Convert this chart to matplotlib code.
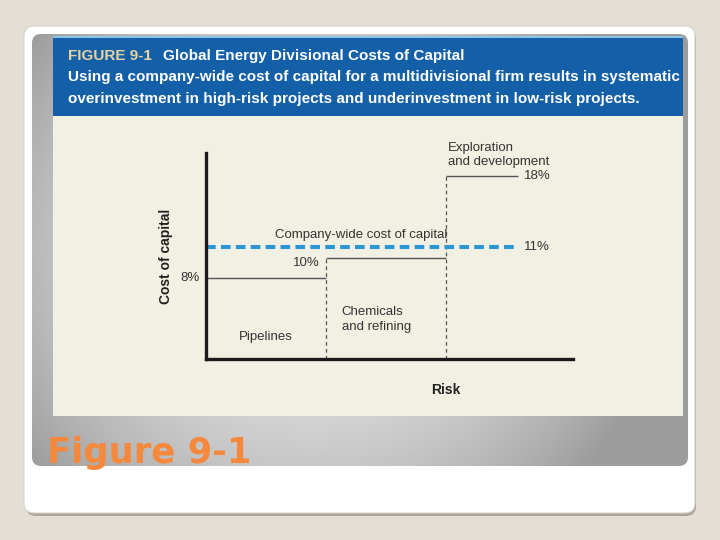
import numpy as np
import matplotlib.pyplot as plt
from matplotlib.patches import FancyBboxPatch, Rectangle
from matplotlib import font_manager

# data
divisions = ["Pipelines", "Chemicals\nand refining", "Exploration\nand development"]
risk_edges = [0, 1, 2, 2.6]
division_cost = [8, 10, 18]
cost_labels = ["8%", "10%", "18%"]
company_wide_cost = 11
company_label = "11%"

names = {f.name for f in font_manager.fontManager.ttflist}
narrow = "Liberation Sans Narrow" if "Liberation Sans Narrow" in names else "Liberation Sans"

fig = plt.figure(figsize=(7.2, 5.4), dpi=100)
fig.patch.set_facecolor("#e4ded4")

# background in pixel coordinates
bg = fig.add_axes([0, 0, 1, 1])
bg.set_xlim(0, 720)
bg.set_ylim(540, 0)
bg.axis("off")

# card with shadow
bg.add_patch(FancyBboxPatch((26, 29), 670, 487, boxstyle="round,pad=0,rounding_size=10",
                            fc="#a9a49c", ec="none"))
bg.add_patch(FancyBboxPatch((24, 26), 671, 487, boxstyle="round,pad=0,rounding_size=10",
                            fc="white", ec="#d8d4cc", lw=0.8))

# gray gradient panel
panel = FancyBboxPatch((32, 34), 656, 432, boxstyle="round,pad=0,rounding_size=9",
                       fc="none", ec="none")
bg.add_patch(panel)
xx = np.linspace(-1, 1, 300)
yy = np.linspace(-1, 1, 200)
X, Y = np.meshgrid(xx, yy)
r = np.sqrt(((X + 0.15) / 1.1) ** 2 + (Y / 1.6) ** 2)
grad = 0.89 - 0.28 * np.clip(r, 0, 1) ** 2
im = bg.imshow(grad, cmap="gray", vmin=0, vmax=1, extent=(32, 688, 466, 34),
               aspect="auto", zorder=1)
im.set_clip_path(panel)

# blue header and cream plot area
bg.add_patch(Rectangle((53, 36), 630, 80, fc="#1460a8", ec="none", zorder=2))
bg.add_patch(Rectangle((53, 36), 630, 2, fc="#8fc3e6", ec="none", zorder=2))
bg.add_patch(Rectangle((53, 116), 630, 300, fc="#f2f0e3", ec="none", zorder=2))

hdr = dict(family=narrow, weight="bold", fontsize=11, va="center", zorder=3)
bg.text(68, 56, "FIGURE 9-1", color="#e6d3a0", **hdr)
bg.text(163, 56, "Global Energy Divisional Costs of Capital", color="white", **hdr)
bg.text(68, 77, "Using a company-wide cost of capital for a multidivisional firm results in systematic",
        color="white", **hdr)
bg.text(68, 99, "overinvestment in high-risk projects and underinvestment in low-risk projects.",
        color="white", **hdr)

bg.text(47, 453, "Figure 9-1", color="#f5883a", fontsize=25.5, weight="bold",
        family="DejaVu Sans", va="center", zorder=3)

# chart
ax = fig.add_axes([206 / 720, (540 - 359) / 540, 367 / 720, 206 / 540])
ax.set_xlim(0, 3.06)
ax.set_ylim(0, 20.3)
ax.patch.set_alpha(0)
for s in ["top", "right"]:
    ax.spines[s].set_visible(False)
for s in ["left", "bottom"]:
    ax.spines[s].set_linewidth(2.4)
    ax.spines[s].set_color("#1a1a1a")
ax.set_xticks([])
ax.set_yticks([])

line_col = "#555555"
fs = 9.5
for i in range(len(divisions)):
    ax.hlines(division_cost[i], risk_edges[i], risk_edges[i + 1], color=line_col, lw=1.0)
for i in [1, 2]:
    ax.vlines(risk_edges[i], 0, division_cost[i], color=line_col, lw=0.9,
              linestyle=(0, (3, 2.5)))

ax.hlines(company_wide_cost, 0, risk_edges[-1], color="#2a97d4", lw=2.9,
          linestyle=(0, (2.4, 1.3)))

ax.text(-0.05, division_cost[0], cost_labels[0], ha="right", va="center",
        fontsize=fs, family=narrow, color="#333333")
ax.text(risk_edges[1] - 0.05, division_cost[1] - 0.5, cost_labels[1], ha="right", va="center",
        fontsize=fs, family=narrow, color="#333333")
ax.text(risk_edges[3] + 0.05, division_cost[2], cost_labels[2], ha="left", va="center",
        fontsize=fs, family=narrow, color="#333333")
ax.text(risk_edges[3] + 0.05, company_wide_cost, company_label, ha="left", va="center",
        fontsize=fs, family=narrow, color="#333333")
ax.text(1.29, company_wide_cost + 1.2, "Company-wide cost of capital", ha="center", va="center",
        fontsize=fs, family=narrow, color="#333333")

ax.text(0.5, 2.2, divisions[0], ha="center", va="center", fontsize=fs, family=narrow,
        color="#333333")
ax.text(1.13, 3.9, divisions[1], ha="left", va="center", fontsize=fs, family=narrow,
        color="#333333", linespacing=1.3)
ax.text(2.02, 20.1, divisions[2], ha="left", va="center", fontsize=fs, family=narrow,
        color="#333333", linespacing=1.3)

ax.set_ylabel("Cost of capital", fontsize=10, weight="bold", family=narrow,
              color="#222222", labelpad=24)
ax.text(2.0, -3.1, "Risk", ha="center", va="center", fontsize=10, weight="bold",
        family=narrow, color="#222222")

fig.savefig("out.png", dpi=100, facecolor=fig.get_facecolor())
